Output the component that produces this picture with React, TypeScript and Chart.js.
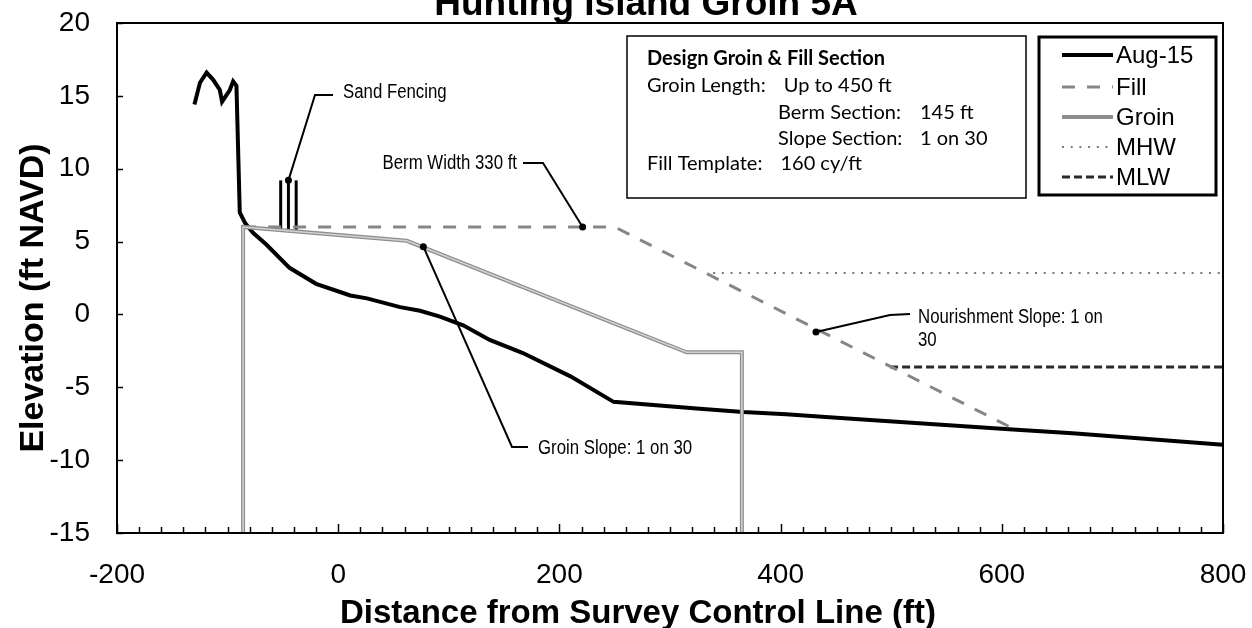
import React, { useEffect, useRef } from "react";
import { Chart, registerables } from "chart.js";

Chart.register(...registerables);

const CANVAS_W = 1252;
const CANVAS_H = 628;

const chartTitle = "Hunting Island Groin 5A";
const xAxisTitle = "Distance from Survey Control Line (ft)";
const yAxisTitle = "Elevation (ft NAVD)";

const xMin = -200;
const xMax = 800;
const xStep = 200;
const xMinorStep = 20;
const yMin = -15;
const yMax = 20;
const yStep = 5;

// Aug-15 survey profile
const augX = [-130, -125, -119, -113, -107, -105, -98, -95, -92, -89, -84, -77, -65, -44, -20, 11, 26, 56, 74, 92, 113, 137, 167, 210, 249, 324, 366, 405, 454, 610, 664, 800];
const augY = [14.4, 15.9, 16.6, 16.1, 15.4, 14.6, 15.4, 16.0, 15.7, 7.0, 6.25, 5.6, 4.8, 3.2, 2.1, 1.3, 1.1, 0.5, 0.25, -0.15, -0.75, -1.75, -2.65, -4.25, -6.0, -6.45, -6.7, -6.85, -7.1, -7.9, -8.15, -8.95];

// Fill template
const fillX = [-86, 250, 612];
const fillY = [6, 6, -7.9];

// Groin profile
const groinX = [-86, -86, 62, 315, 365, 365];
const groinY = [-15, 6, 5.05, -2.6, -2.6, -15];

// Tidal datums
const mhwX = [339, 800];
const mhwY = [2.85, 2.85];
const mlwX = [499, 800];
const mlwY = [-3.6, -3.6];

// Sand fencing posts
const fenceX = [-52, -45, -38];
const fenceBottom = 5.8;
const fenceTop = 9.2;

const seriesLabels = ["Aug-15", "Fill", "Groin", "MHW", "MLW"];

const designTitle = "Design Groin & Fill Section";
const designRows = [
  { label: "Groin Length:", value: "Up to 450 ft" },
  { label: "Berm Section:", value: "145 ft" },
  { label: "Slope Section:", value: "1 on 30" },
  { label: "Fill Template:", value: "160 cy/ft" },
];

// callout anchors (data coords) and texts
const calloutTexts = [["Sand Fencing"], ["Berm Width 330 ft"], ["Groin Slope: 1 on 30"], ["Nourishment Slope: 1 on", "30"]];
const calloutAnchorX = [-45, 221, 77, 432];
const calloutAnchorY = [9.2, 6.0, 4.65, -1.2];

const pts = (xs: number[], ys: number[]) => xs.map((x, i) => ({ x, y: ys[i] }));

const ARIAL = "'Liberation Sans', Arial, sans-serif";
const CALIBRI = "Lato, 'Open Sans', sans-serif";

function narrowText(ctx: CanvasRenderingContext2D, text: string, x: number, y: number, align: CanvasTextAlign) {
  ctx.save();
  ctx.translate(x, y);
  ctx.scale(0.84, 1);
  ctx.textAlign = align;
  ctx.textBaseline = "middle";
  ctx.fillText(text, 0, 0);
  ctx.restore();
}

const decorPlugin = {
  id: "decor",
  beforeDraw(chart: any) {
    const ctx = chart.ctx as CanvasRenderingContext2D;
    ctx.save();
    ctx.fillStyle = "#fff";
    ctx.fillRect(0, 0, chart.width, chart.height);
    ctx.restore();
  },
  afterDraw(chart: any) {
    const ctx = chart.ctx as CanvasRenderingContext2D;
    const ca = chart.chartArea;
    const xs = chart.scales.x;
    const ys = chart.scales.y;
    ctx.save();

    // frame
    ctx.strokeStyle = "#000";
    ctx.lineWidth = 2;
    ctx.strokeRect(ca.left, ca.top, ca.right - ca.left, ca.bottom - ca.top);

    // inside tick marks
    ctx.lineWidth = 1.5;
    for (let v = xMin; v <= xMax; v += xMinorStep) {
      const px = Math.round(xs.getPixelForValue(v)) + 0.5;
      const len = v % xStep === 0 ? 9 : 6;
      ctx.beginPath();
      ctx.moveTo(px, ca.bottom);
      ctx.lineTo(px, ca.bottom - len);
      ctx.stroke();
    }
    for (let v = yMin; v <= yMax; v += yStep) {
      const py = Math.round(ys.getPixelForValue(v)) + 0.5;
      ctx.beginPath();
      ctx.moveTo(ca.left, py);
      ctx.lineTo(ca.left + 6, py);
      ctx.stroke();
    }

    // chart title (partly cut at top)
    ctx.fillStyle = "#000";
    ctx.font = `bold 37px ${ARIAL}`;
    ctx.textAlign = "center";
    ctx.textBaseline = "alphabetic";
    ctx.fillText(chartTitle, 646, 15);

    // axis titles
    ctx.font = `bold 33px ${ARIAL}`;
    ctx.textAlign = "left";
    ctx.fillText(xAxisTitle, 340, 623);
    ctx.save();
    ctx.translate(43, 298);
    ctx.rotate(-Math.PI / 2);
    ctx.font = `bold 34px ${ARIAL}`;
    ctx.textAlign = "center";
    ctx.fillText(yAxisTitle, 0, 0);
    ctx.restore();

    // design info box
    ctx.fillStyle = "#fff";
    ctx.fillRect(627, 36, 399, 162);
    ctx.fillStyle = "#000";
    ctx.lineWidth = 1.5;
    ctx.strokeRect(627, 36, 399, 162);
    ctx.textBaseline = "middle";
    ctx.textAlign = "left";
    ctx.font = `bold 20px ${CALIBRI}`;
    ctx.fillText(designTitle, 647, 59);
    ctx.font = `20px ${CALIBRI}`;
    const rowY = [86, 112.5, 138.5, 164];
    const labelX = [647, 778, 778, 647];
    const valueX = [0, 920, 920, 0];
    designRows.forEach((r, i) => {
      ctx.fillText(r.label, labelX[i], rowY[i]);
      const vx = valueX[i] || labelX[i] + ctx.measureText(r.label).width + 18;
      ctx.fillText(r.value, vx, rowY[i]);
    });

    // legend box
    ctx.fillStyle = "#fff";
    ctx.fillRect(1039, 37, 177, 158);
    ctx.fillStyle = "#000";
    ctx.lineWidth = 3;
    ctx.strokeRect(1039, 37, 177, 158);
    const legY = [55, 87, 117, 147, 177];
    ctx.font = `24px ${ARIAL}`;
    seriesLabels.forEach((lab, i) => {
      const sets = chart.data.datasets.filter((d: any) => d.label === lab || d.styleOf === lab);
      const y = legY[i];
      sets.forEach((ds: any) => {
        ctx.save();
        ctx.strokeStyle = ds.borderColor;
        ctx.lineWidth = ds.borderWidth;
        ctx.setLineDash(ds.borderDash || []);
        ctx.beginPath();
        ctx.moveTo(1062, y);
        ctx.lineTo(1113, y);
        ctx.stroke();
        ctx.restore();
      });
      ctx.fillStyle = "#000";
      ctx.textAlign = "left";
      ctx.textBaseline = "middle";
      ctx.fillText(lab, 1116, y + 1);
    });

    // callouts
    const elbows = [
      [[315, 95], [333, 95]],
      [[543, 163], [523, 163]],
      [[512, 447], [528, 447]],
      [[890, 315], [910, 314]],
    ];
    const textPos = [
      [343, 92, "left"],
      [517, 163, "right"],
      [538, 448, "left"],
      [918, 317, "left"],
    ];
    ctx.font = `20px ${ARIAL}`;
    ctx.strokeStyle = "#000";
    ctx.fillStyle = "#000";
    ctx.lineWidth = 2;
    calloutTexts.forEach((lines, i) => {
      const ax = xs.getPixelForValue(calloutAnchorX[i]);
      const ay = ys.getPixelForValue(calloutAnchorY[i]);
      ctx.beginPath();
      ctx.moveTo(ax, ay);
      elbows[i].forEach((p) => ctx.lineTo(p[0], p[1]));
      ctx.stroke();
      ctx.beginPath();
      ctx.arc(ax, ay, 3.5, 0, Math.PI * 2);
      ctx.fill();
      const [tx, ty, al] = textPos[i] as [number, number, CanvasTextAlign];
      lines.forEach((t, j) => narrowText(ctx, t, tx, ty + j * 23, al));
    });

    ctx.restore();
  },
};

export default function App() {
  const ref = useRef<HTMLCanvasElement | null>(null);
  useEffect(() => {
    if (!ref.current) return;
    const lineDs = (label: string, data: any[], color: string, width: number, dash: number[] = []) => ({
      label,
      data,
      borderColor: color,
      backgroundColor: color,
      borderWidth: width,
      borderDash: dash,
      pointRadius: 0,
      showLine: true,
      fill: false,
      tension: 0,
    });
    const fenceSets = fenceX.map((fx, i) =>
      lineDs(`Fence ${i + 1}`, [{ x: fx, y: fenceBottom }, { x: fx, y: fenceTop }], "#000", 3)
    );
    const groinCore = { ...lineDs("Groin core", pts(groinX, groinY), "#d2d2d2", 1.5), styleOf: "Groin" };
    const chart = new Chart(ref.current, {
      type: "scatter",
      data: {
        datasets: [
          groinCore,
          lineDs("Groin", pts(groinX, groinY), "#8e8e8e", 4),
          lineDs("Fill", pts(fillX, fillY), "#868686", 3, [13, 12]),
          ...fenceSets,
          lineDs("MLW", pts(mlwX, mlwY), "#2a2a2a", 3, [8, 4]),
          lineDs("MHW", pts(mhwX, mhwY), "#7a7a7a", 2, [2, 6.7]),
          lineDs("Aug-15", pts(augX, augY), "#000", 4),
        ] as any,
      },
      options: {
        responsive: false,
        devicePixelRatio: 1,
        animation: false,
        events: [],
        layout: { autoPadding: false, padding: { top: 23, right: 29, left: 0, bottom: 0 } },
        plugins: { legend: { display: false }, tooltip: { enabled: false }, title: { display: false } },
        scales: {
          x: {
            type: "linear",
            min: xMin,
            max: xMax,
            ticks: { stepSize: xStep, padding: 25, color: "#000", font: { family: ARIAL, size: 28 } },
            grid: { display: false, drawTicks: false },
            border: { display: false },
            afterFit: (s: any) => {
              s.height = 95;
              s.paddingLeft = 0;
              s.paddingRight = 0;
              s.paddingTop = 0;
              s.paddingBottom = 0;
            },
          },
          y: {
            type: "linear",
            min: yMin,
            max: yMax,
            ticks: { stepSize: yStep, padding: 27, color: "#000", font: { family: ARIAL, size: 28 } },
            grid: { display: false, drawTicks: false },
            border: { display: false },
            afterFit: (s: any) => {
              s.width = 117;
              s.paddingLeft = 0;
              s.paddingRight = 0;
              s.paddingTop = 0;
              s.paddingBottom = 0;
            },
          },
        },
      } as any,
      plugins: [decorPlugin],
    });
    return () => chart.destroy();
  }, []);
  return (
    <div style={{ position: "fixed", left: 0, top: 0, width: CANVAS_W, height: CANVAS_H, background: "#fff" }}>
      <canvas ref={ref} width={CANVAS_W} height={CANVAS_H} style={{ display: "block" }} />
    </div>
  );
}
